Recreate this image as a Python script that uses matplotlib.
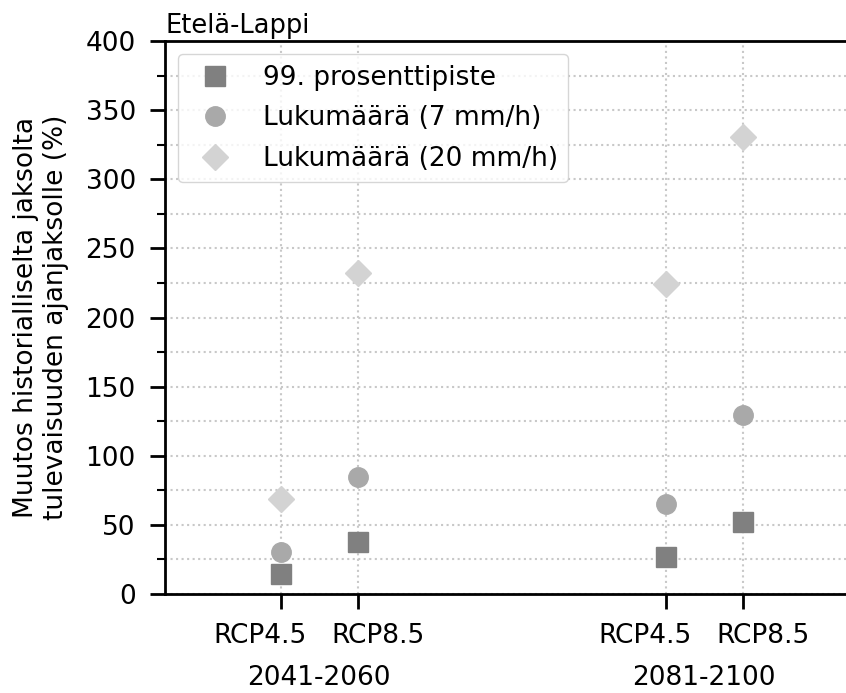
import numpy as np
from matplotlib import pyplot as plt
from matplotlib.ticker import MultipleLocator
from matplotlib.transforms import ScaledTranslation

# scenario positions (two periods, two RCPs each)
x_pos = [1, 2, 6, 7]
rcp_labels = ['RCP4.5', 'RCP8.5', 'RCP4.5', 'RCP8.5']
period_pos = [1.5, 6.5]
period_labels = ['2041-2060', '2081-2100']

p99 = [14.5, 37.5, 27, 52]           # 99. prosenttipiste
n7 = [30.5, 84.5, 65, 129.5]         # Lukumäärä (7 mm/h)
n20 = [69, 232.5, 224.5, 330.5]      # Lukumäärä (20 mm/h)

plt.rcParams['font.size'] = 19
plt.rcParams['axes.linewidth'] = 2

fig = plt.figure(figsize=(8.46, 6.93), dpi=100)
ax = fig.add_axes([165/846, 99/693, 693/846, 553/693])

ax.plot(x_pos, p99, 's', color='#808080', ms=14, label='99. prosenttipiste', zorder=3)
ax.plot(x_pos, n7, 'o', color='#a9a9a9', ms=14, label='Lukumäärä (7 mm/h)', zorder=3)
ax.plot(x_pos, n20, 'D', color='#d3d3d3', ms=13.5, label='Lukumäärä (20 mm/h)', zorder=3)

ax.set_xlim(-0.5, 8.5)
ax.set_ylim(0, 400)
ax.yaxis.set_major_locator(MultipleLocator(50))
ax.yaxis.set_minor_locator(MultipleLocator(25))

ax.set_xticks(x_pos)
ax.set_xticklabels(rcp_labels)
ax.set_xticks(period_pos, minor=True)
ax.set_xticklabels(period_labels, minor=True)
ax.tick_params(axis='x', which='minor', length=0, pad=51)
ax.tick_params(axis='x', which='major', length=11, width=2, pad=10)
ax.tick_params(axis='y', which='major', length=11, width=2, pad=10)
ax.tick_params(axis='y', which='minor', length=6, width=1.5)

# spread the RCP labels apart a little so they don't collide
for i, lab in enumerate(ax.get_xticklabels()):
    dx = -15 / 72 if i % 2 == 0 else 15 / 72
    lab.set_transform(lab.get_transform() + ScaledTranslation(dx, 0, fig.dpi_scale_trans))

ax.grid(True, axis='y', which='both', linestyle=':', color='#c8c8c8', linewidth=1.5)
ax.grid(True, axis='x', which='major', linestyle=':', color='#c8c8c8', linewidth=1.5)
ax.set_axisbelow(True)

ax.spines['right'].set_visible(False)

ax.set_title('Etelä-Lappi', loc='left', fontsize=18.5, pad=6)
ax.set_ylabel('Muutos historialliselta jaksolta\ntulevaisuuden ajanjaksolle (%)', labelpad=12)

ax.legend(loc='upper left', handletextpad=0.8, borderaxespad=0.5, labelspacing=0.55)

plt.savefig('out.png', dpi=100)
